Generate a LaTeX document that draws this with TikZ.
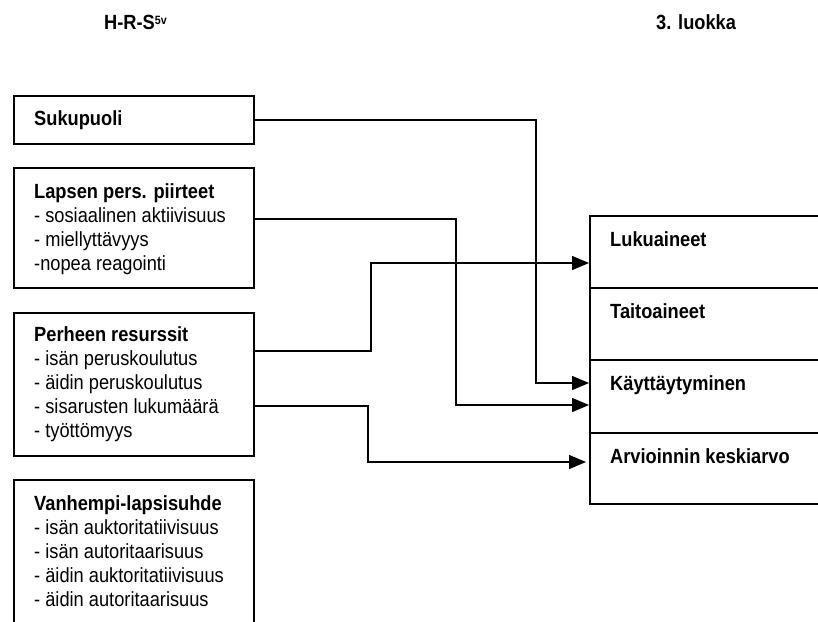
\documentclass[tikz,border=0pt]{standalone}
\usepackage{fontspec}
\setmainfont{Liberation Sans}[FakeStretch=0.89]
\usetikzlibrary{arrows.meta}
\tikzset{
  box/.style={draw, line width=2pt, anchor=north west, inner sep=0pt, minimum width=240pt},
  rbox/.style={draw, line width=2pt, anchor=north west, inner sep=0pt, minimum width=260pt},
  txt/.style={anchor=base west, inner sep=0pt, font=\fontsize{20.5}{24}\selectfont},
  head/.style={anchor=base west, inner sep=0pt, font=\fontsize{20.5}{24}\selectfont\bfseries},
  link/.style={line width=1.5pt, -{Triangle[length=17pt,width=14pt]}}
}
\newcommand{\itemlist}[2]{\begin{tabular}[t]{@{}l@{}}\textbf{#1}#2\end{tabular}}
\begin{document}
\begin{tikzpicture}[x=1pt,y=-1pt]
  \clip (0,0) rectangle (818,621);
  \fill[white] (0,0) rectangle (818,621);

  % column headings
  \node[head] (hrs) at (104,29) {H-R-S\raisebox{5pt}{\fontsize{12}{12}\selectfont 5v}};
  \node[head] (lk) at (656,29) {3. luokka};

  % predictor boxes
  \node[box, minimum height=48pt] (suk) at (13,95) {};
  \node[box, minimum height=120pt] (lap) at (13,167) {};
  \node[box, minimum height=143pt] (per) at (13,312) {};
  \node[box, minimum height=180pt] (van) at (13,479) {};

  \node[txt] (sukT) at (34,125) {\textbf{Sukupuoli}};
  \node[txt] (lapT) at (34,198) {\itemlist{Lapsen pers. piirteet}{\\- sosiaalinen aktiivisuus\\- miellyttävyys\\-nopea reagointi}};
  \node[txt] (perT) at (34,341) {\itemlist{Perheen resurssit}{\\- isän peruskoulutus\\- äidin peruskoulutus\\- sisarusten lukumäärä\\- työttömyys}};
  \node[txt] (vanT) at (34,510) {\itemlist{Vanhempi-lapsisuhde}{\\- isän auktoritatiivisuus\\- isän autoritaarisuus\\- äidin auktoritatiivisuus\\- äidin autoritaarisuus}};

  % outcome boxes
  \node[rbox, minimum height=72pt] (luk) at (589,215) {};
  \node[rbox, minimum height=72pt] (tai) at (589,287) {};
  \node[rbox, minimum height=73pt] (kay) at (589,359) {};
  \node[rbox, minimum height=71pt] (arv) at (589,432) {};

  \node[txt] (lukT) at (610,246) {\textbf{Lukuaineet}};
  \node[txt] (taiT) at (610,318) {\textbf{Taitoaineet}};
  \node[txt] (kayT) at (610,390) {\textbf{Käyttäytyminen}};
  \node[txt] (arvT) at (610,463) {\textbf{Arvioinnin keskiarvo}};

  % connectors
  \draw[link] (suk.east |- 0,120) -- (536,120) -- (536,383) -- (kay.west |- 0,383);
  \draw[link] (lap.east |- 0,219) -- (456,219) -- (456,405) -- (kay.west |- 0,405);
  \draw[link] (per.east |- 0,351) -- (371,351) -- (371,263) -- (luk.west |- 0,263);
  \draw[link] ([xshift=-2pt]per.east |- 0,406) -- (368,406) -- (368,462) -- ([xshift=-3pt]arv.west |- 0,462);
\end{tikzpicture}
\end{document}
